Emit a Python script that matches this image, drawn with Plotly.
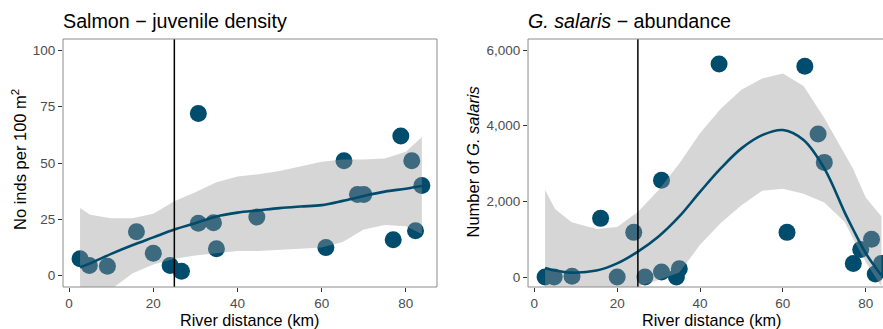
import plotly.graph_objects as go

# ---------------- data ----------------
river_km = [2.6, 4.8, 9.1, 16.0, 20.0, 24.0, 26.7, 30.7, 30.7, 34.3, 35.0, 44.6,
            61.0, 65.3, 68.5, 70.0, 77.0, 78.8, 81.4, 82.3, 83.8]
salmon_density = [7.5, 4.5, 4.2, 19.5, 10.0, 4.5, 2.0, 72.0, 23.3, 23.5, 12.0, 26.0,
                  12.5, 51.0, 36.0, 36.0, 16.0, 62.0, 51.0, 20.0, 40.0]
gs_abundance = [0, 0, 20, 1550, 0, 1180, 0, 2560, 130, 0, 220, 5630,
                1180, 5570, 3780, 3030, 360, 730, 1000, 80, 360]

# smoothed fits
fit_x = [2.6, 5, 10, 15, 20, 25, 30, 35, 40, 45, 50, 55, 60, 65, 70, 75, 80, 83.8]
salmon_fit = [3.8, 5.5, 9.7, 13.5, 17.0, 20.5, 23.3, 26.3, 28.0, 29.0, 30.0, 30.7,
              31.3, 33.2, 35.4, 37.3, 38.6, 39.8]
salmon_upper = [30, 27, 25.5, 25.5, 27.5, 33, 37, 41.5, 44, 45, 46.5, 48.5, 50.5,
                51.5, 51.5, 52, 55, 61.5]
salmon_lower = [-22, -16, -6, 1, 5, 7.5, 9, 10, 11, 11, 11.5, 12, 12.5, 15, 20.5,
                22.5, 22, 18.5]

gs_fit_x = [2.6, 5, 9, 15, 20, 25, 30, 35, 40, 45, 50, 55, 60, 65, 70, 75, 77, 80, 83.8]
gs_fit = [240, 170, 115, 170, 360, 670, 1070, 1600, 2250, 2870, 3400, 3750, 3885,
          3620, 2870, 1690, 1250, 630, 40]
gs_upper = [2300, 1800, 1450, 1270, 1320, 1720, 2300, 3000, 3800, 4450, 4950, 5250,
            5380, 5050, 4200, 3250, 2850, 2100, 1600]
gs_lower = [-1500, -1200, -900, -600, -400, -250, -80, 120, 850, 1430, 1900, 2280,
            2330, 2200, 1970, 1450, 1000, 400, -250]

threshold_km = 25
x_ticks = [0, 20, 40, 60, 80]

# ---------------- style ----------------
PT = "#004C6D"
FONT = "Arial, Liberation Sans, sans-serif"
RIB = "rgba(153,153,153,0.4)"

fig = go.Figure()

def panel(xs, ys, fx, fy, up, lo, xa, ya):
    fig.add_trace(go.Scatter(x=xs, y=ys, mode="markers", xaxis=xa, yaxis=ya,
                             marker=dict(size=17, color=PT, line=dict(width=0)),
                             showlegend=False, hoverinfo="skip"))
    fig.add_trace(go.Scatter(x=fx + fx[::-1], y=up + lo[::-1], mode="lines",
                             fill="toself", fillcolor=RIB, line=dict(width=0),
                             xaxis=xa, yaxis=ya, showlegend=False, hoverinfo="skip"))
    fig.add_trace(go.Scatter(x=fx, y=fy, mode="lines", xaxis=xa, yaxis=ya,
                             line=dict(color=PT, width=2.6, shape="spline"),
                             showlegend=False, hoverinfo="skip"))

panel(river_km, salmon_density, fit_x, salmon_fit, salmon_upper, salmon_lower, "x", "y")
panel(river_km, gs_abundance, gs_fit_x, gs_fit, gs_upper, gs_lower, "x2", "y2")

axis_common = dict(showgrid=False, zeroline=False, showline=False, ticks="outside",
                   ticklen=4, tickwidth=1, tickcolor="#333333",
                   tickfont=dict(family=FONT, size=13.5, color="#4d4d4d"))

fig.update_layout(
    width=883, height=329,
    margin=dict(l=63, r=0, t=39, b=42),
    plot_bgcolor="white", paper_bgcolor="white",
    xaxis=dict(domain=[0, 0.4561], range=[-1.45, 87.4], tickvals=x_ticks, **axis_common),
    yaxis=dict(range=[-5, 105], tickvals=[0, 25, 50, 75, 100], **axis_common),
    xaxis2=dict(domain=[0.5671, 1], range=[-1.52, 84.17], tickvals=x_ticks,
                anchor="y2", **axis_common),
    yaxis2=dict(range=[-264, 6291], tickvals=[0, 2000, 4000, 6000], tickformat=",d",
                anchor="x2", **axis_common),
)

shapes = []
for xr, yr in (("x", "y"), ("x2", "y2")):
    shapes.append(dict(type="line", xref=xr, yref=yr + " domain", x0=threshold_km,
                       x1=threshold_km, y0=0, y1=1, line=dict(color="black", width=1.5),
                       layer="above"))
BC = "#8c8c8c"
shapes.append(dict(type="rect", xref="x domain", yref="y domain", x0=0, x1=1, y0=0, y1=1,
                   line=dict(color=BC, width=1), layer="above"))
for (x0, y0, x1, y1) in ((0, 0, 0, 1), (0, 1, 1, 1), (0, 0, 1, 0)):
    shapes.append(dict(type="line", xref="x2 domain", yref="y2 domain", x0=x0, y0=y0,
                       x1=x1, y1=y1, line=dict(color=BC, width=1), layer="above"))
fig.update_layout(shapes=shapes)

def ann(text, x, y, size, xanchor="center", angle=0):
    return dict(text=text, x=x, y=y, xref="paper", yref="paper", showarrow=False,
                xanchor=xanchor, yanchor="middle", textangle=angle,
                font=dict(family=FONT, size=size, color="black"))

fig.update_layout(annotations=[
    ann("Salmon − juvenile density", -0.002, 1.0726, 19.7, "left"),
    ann("<i>G. salaris</i> − abundance", 0.5645, 1.0726, 19.7, "left"),
    ann("No inds per 100 m<sup>2</sup>", -0.0537, 0.516, 16.5, angle=-90),
    ann("Number of <i>G. salaris</i>", 0.4988, 0.502, 16.5, angle=-90),
    ann("River distance (km)", 0.228, -0.135, 16.2),
    ann("River distance (km)", 0.791, -0.135, 16.2),
])

fig.write_html("out.html", config={"displayModeBar": False},
               post_script="document.body.style.margin='0';document.body.style.overflow='hidden';")
